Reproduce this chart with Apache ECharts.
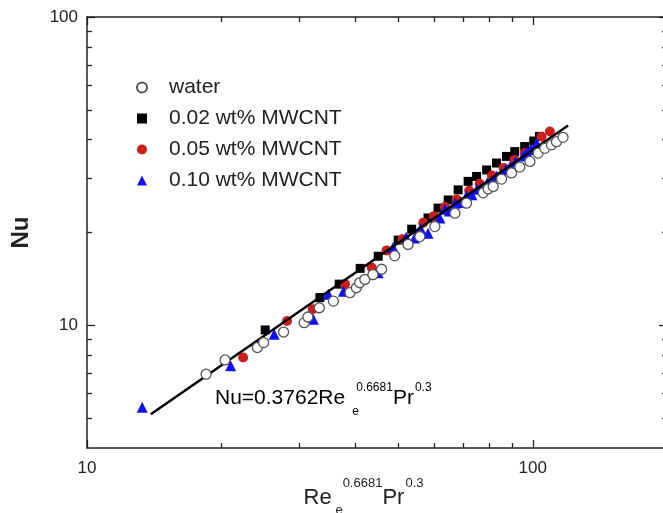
<!DOCTYPE html>
<html><head><meta charset="utf-8">
<script src="https://cdn.jsdelivr.net/npm/echarts@6/dist/echarts.min.js"></script>
<style>html,body{margin:0;padding:0;background:#fff}#c{width:663px;height:513px}</style>
</head><body><div id="c"></div>
<script>
const seriesNames = ['water', '0.02 wt% MWCNT', '0.05 wt% MWCNT', '0.10 wt% MWCNT'];

const water = [[18.5,6.94],[20.4,7.72],[24.1,8.47],[24.9,8.79],[27.6,9.51],[30.7,10.2],[31.3,10.64],
  [33.2,11.4],[35.7,11.98],[38.9,12.76],[40.2,13.24],[40.9,13.74],[42.0,14.08],[43.8,14.6],[45.8,15.2],
  [49.0,16.8],[52.5,18.3],[55.8,19.4],[60.3,20.9],[66.9,23.1],[71.0,24.9],[77.4,26.9],[79.4,27.7],
  [81.5,28.2],[85.1,29.8],[89.6,31.2],[93.5,32.6],[98.5,34.0],[102.8,36.2],[106.4,37.5],[110.1,38.5],
  [113.0,39.4],[116.9,40.7]];

const cnt002 = [[25.1,9.66],[33.3,12.3],[36.8,13.6],[41.0,15.3],[45.0,16.75],[49.9,18.9],[53.5,20.5],
  [58.2,22.3],[61.3,24.0],[64.6,25.5],[68.0,27.5],[71.6,29.3],[74.8,30.4],[78.8,31.9],[82.9,33.6],
  [87.3,35.3],[91.1,36.6],[95.9,38.0],[100.5,39.6],[103.5,41.0]];

const cnt005 = [[22.4,7.86],[28.1,10.33],[32.1,11.27],[37.9,13.6],[43.5,15.4],[47.0,17.5],[51.0,19.0],
  [56.8,21.5],[60.0,22.6],[63.5,24.2],[67.5,25.6],[72.0,27.3],[76.0,28.8],[81.0,30.6],[86.0,32.4],
  [91.0,34.4],[96.0,36.2],[104.6,40.9],[109.2,42.5]];

const cnt010 = [[13.3,5.42],[21.0,7.39],[26.3,9.35],[32.2,10.46],[34.8,12.6],[37.6,12.9],[45.0,14.8],
  [48.6,17.9],[52.0,19.3],[54.3,19.2],[56.0,20.6],[58.2,19.9],[61.9,22.3],[63.5,23.8],[65.0,23.5],
  [67.0,24.9],[69.0,25.0],[71.0,26.3],[73.0,26.5],[75.0,27.6],[77.0,28.0],[79.0,29.0],[81.0,29.5],
  [83.0,30.5],[85.0,31.0],[87.0,32.0],[89.0,32.8],[91.5,33.9],[95.1,35.4],[97.0,36.5],[99.0,37.2],[102.0,39.0]];

const fitLine = [[13.9,5.15],[120,44.5]];

const xRange = [10, 200];
const yRange = [4, 100];
const xMajorTicks = [10, 100];
const xMinorTicks = [20, 30, 40, 50, 60, 70, 80, 90];
const yMajorTicks = [10, 100];
const yMinorTicks = [5, 6, 7, 8, 9, 20, 30, 40, 50, 60, 70, 80, 90];

const FONT = '"Liberation Sans", Arial, Helvetica, sans-serif';
const AX = '#222';

function mkAxis(kind, pos, ticks, len, showLine, showLabel, extra) {
  const range = kind === 'x' ? xRange : yRange;
  return Object.assign({
    type: 'log', logBase: 10, min: range[0], max: range[1], position: pos, gridIndex: 0,
    axisLine: { show: showLine, onZero: false, lineStyle: { color: AX, width: 1.5 } },
    axisTick: { show: true, inside: true, length: len, customValues: ticks, lineStyle: { color: AX, width: 1.3 } },
    minorTick: { show: false },
    splitLine: { show: false },
    axisLabel: showLabel ? {
      show: true, customValues: kind === 'x' ? xMajorTicks : yMajorTicks,
      fontSize: 17, color: AX, fontFamily: FONT, margin: kind === 'x' ? 12 : 9
    } : { show: false }
  }, extra || {});
}

function richSet(mainSize, supSize, mainPad, subPad) {
  return {
    m: { fontSize: mainSize, lineHeight: mainSize + 1, fontFamily: FONT, color: '#222', verticalAlign: 'top', padding: [mainPad, 0, 0, 0] },
    sub: { fontSize: supSize, lineHeight: supSize, fontFamily: FONT, color: '#222', verticalAlign: 'top', width: 1, padding: [subPad, 0, 0, 7] },
    sup: { fontSize: supSize, lineHeight: supSize, fontFamily: FONT, color: '#222', verticalAlign: 'top', padding: [0, 0, 0, 3] },
    sup2: { fontSize: supSize, lineHeight: supSize, fontFamily: FONT, color: '#222', verticalAlign: 'top', padding: [0, 0, 0, 1] }
  };
}

const chart = echarts.init(document.getElementById('c'), null, { renderer: 'canvas' });
chart.setOption({
  backgroundColor: '#fff',
  animation: false,
  grid: { left: 87, right: -4, top: 17, bottom: 65, containLabel: false, outerBoundsMode: 'none' },
  legend: {
    data: seriesNames, orient: 'vertical', left: 131, top: 72,
    itemWidth: 10, itemHeight: 10, itemGap: 10,
    textStyle: { fontSize: 21, lineHeight: 21, color: '#222', fontFamily: FONT, padding: [0, 0, 0, 17] }
  },
  xAxis: [
    mkAxis('x', 'bottom', xMajorTicks, 8, true, true, {
      name: '{m|Re}{sub|e}{sup|0.6681}{m|Pr}{sup2|0.3}', nameLocation: 'middle', nameGap: 29,
      nameMoveOverlap: false,
      nameTextStyle: { padding: [0, 27, 0, 0], rich: richSet(22, 13, 10, 27) }
    }),
    mkAxis('x', 'bottom', xMinorTicks, 5, false, false),
    mkAxis('x', 'top', xMajorTicks, 8, true, false),
    mkAxis('x', 'top', xMinorTicks, 5, false, false)
  ],
  yAxis: [
    mkAxis('y', 'left', yMajorTicks, 8, true, true, {
      name: 'Nu', nameLocation: 'middle', nameGap: 54, nameMoveOverlap: false,
      nameTextStyle: { fontSize: 24, fontWeight: 'bold', fontFamily: FONT, color: '#222' }
    }),
    mkAxis('y', 'left', yMinorTicks, 5, false, false),
    mkAxis('y', 'right', yMajorTicks, 8, true, false),
    mkAxis('y', 'right', yMinorTicks, 5, false, false)
  ],
  graphic: [{
    type: 'text', left: 215, top: 382, z: 100,
    style: { text: '{m|Nu=0.3762Re}{sub|e}{sup|0.6681}{m|Pr}{sup2|0.3}', rich: richSet(21, 12, 6, 24) }
  }],
  series: [
    { name: seriesNames[1], type: 'scatter', data: cnt002, symbol: 'rect', symbolSize: 9,
      itemStyle: { color: '#000', opacity: 1 }, z: 2 },
    { name: seriesNames[2], type: 'scatter', data: cnt005, symbol: 'circle', symbolSize: 10,
      itemStyle: { color: '#cc1f1d', opacity: 1 }, z: 3 },
    { name: seriesNames[3], type: 'scatter', data: cnt010, symbol: 'triangle', symbolSize: 11,
      itemStyle: { color: '#1010ff', opacity: 1 }, z: 4 },
    { name: 'fit', type: 'line', data: fitLine, showSymbol: false, symbol: 'none',
      lineStyle: { color: '#000', width: 2.5 }, z: 5, silent: true },
    { name: seriesNames[0], type: 'scatter', data: water, symbol: 'circle', symbolSize: 10,
      itemStyle: { color: '#fff', borderColor: '#555', borderWidth: 1.3, opacity: 1 }, z: 6 }
  ]
});
</script></body></html>
